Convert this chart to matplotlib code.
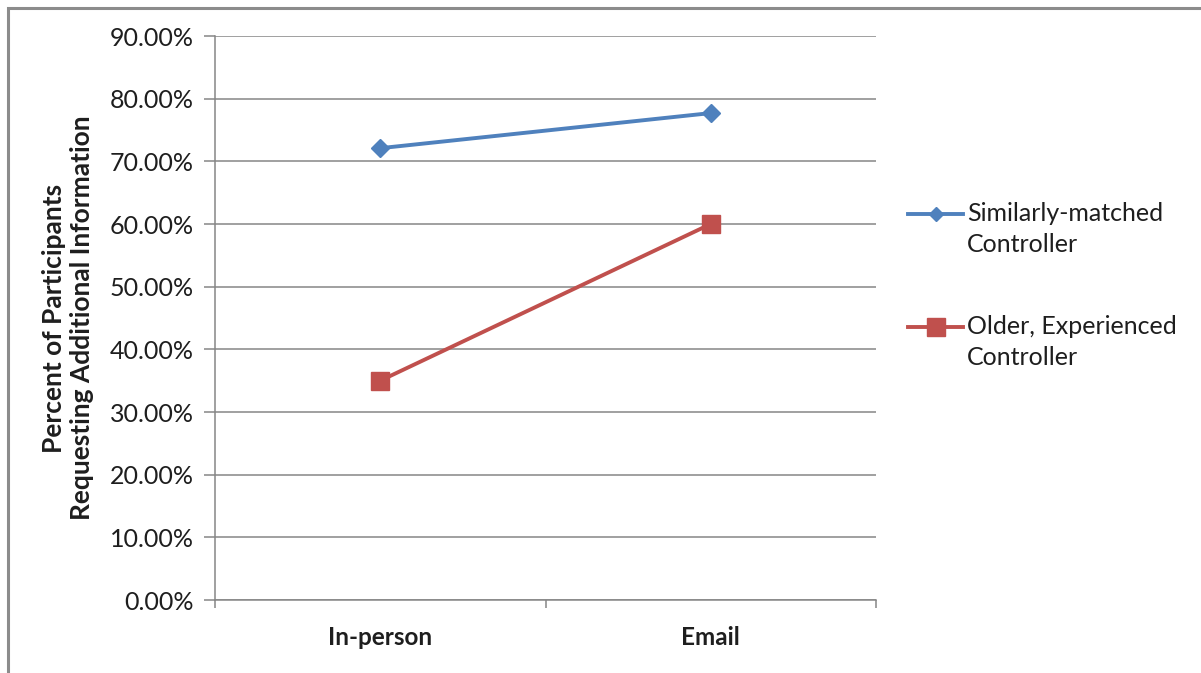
import matplotlib
matplotlib.use("Agg")
import matplotlib.pyplot as plt
from matplotlib.lines import Line2D
from matplotlib.patches import Rectangle
from matplotlib.ticker import FuncFormatter, FixedLocator

plt.rcParams["font.family"] = ["Lato", "DejaVu Sans"]

categories = ["In-person", "Email"]
similar_pct = [72.1, 77.7]
older_pct = [35.0, 60.0]
series_names = ["Similarly-matched\nController", "Older, Experienced\nController"]

BLUE = "#4F81BD"
RED = "#C0504D"
GRID = "#868686"
TEXT = "#1E1E1E"

W, H = 1201, 673
fig = plt.figure(figsize=(W / 100, H / 100), dpi=100)


def fx(px):
    return px / W


def fy(py):
    return 1 - py / H


# chart frame (only left/top edge falls inside the image)
fig.patches.append(Rectangle((fx(8), fy(700)), fx(1300), fy(8) - fy(700),
                             transform=fig.transFigure, fill=False,
                             edgecolor="#8C8C8C", linewidth=2.2))

ax = fig.add_axes([fx(215), fy(600), fx(876) - fx(215), fy(36) - fy(600)])

x = [i + 0.5 for i in range(len(categories))]
ax.plot(x, similar_pct, color=BLUE, linewidth=2.8, marker="D", markersize=9.5,
        markerfacecolor=BLUE, markeredgecolor=BLUE, zorder=3)
ax.plot(x, older_pct, color=RED, linewidth=2.8, marker="s", markersize=13,
        markerfacecolor=RED, markeredgecolor=RED, zorder=3)

ax.set_xlim(0, len(categories))
ax.set_ylim(0, 90)
ax.set_yticks(range(0, 91, 10))
ax.yaxis.set_major_formatter(FuncFormatter(lambda v, _: f"{v:.2f}%"))
ax.yaxis.grid(True, color=GRID, linewidth=1.1)
ax.set_axisbelow(True)

ax.xaxis.set_major_locator(FixedLocator(range(len(categories) + 1)))
ax.xaxis.set_major_formatter(FuncFormatter(lambda v, _: ""))
ax.xaxis.set_minor_locator(FixedLocator(x))
ax.set_xticklabels(categories, minor=True, fontweight="bold", fontsize=17.5, color=TEXT)
ax.tick_params(axis="x", which="major", length=6, color=GRID, width=1.1, direction="out")
ax.tick_params(axis="x", which="minor", length=0, pad=19)
ax.tick_params(axis="y", length=8, color=GRID, width=1.1, labelsize=18,
               labelcolor=TEXT, pad=7.5)

for side in ("top", "right"):
    ax.spines[side].set_visible(False)
for side in ("left", "bottom"):
    ax.spines[side].set_color(GRID)
    ax.spines[side].set_linewidth(1.1)

ax.set_ylabel("Percent of Participants\nRequesting Additional Information",
              fontsize=19, fontweight="bold", labelpad=11, linespacing=1.2, color=TEXT)

# legend entries drawn by hand so the marker sits on the first text line
for name, color, marker, ms, y in [(series_names[0], BLUE, "D", 7.5, 214),
                                   (series_names[1], RED, "s", 13, 327)]:
    fig.lines.append(Line2D([fx(908), fx(963)], [fy(y), fy(y)], transform=fig.transFigure,
                            color=color, linewidth=2.8))
    fig.lines.append(Line2D([fx(935.5)], [fy(y)], transform=fig.transFigure,
                            color=color, marker=marker, markersize=ms, linestyle="none"))
    fig.text(fx(967), fy(y - 12), name, fontsize=18, va="top", ha="left",
             color=TEXT, linespacing=1.42)

fig.savefig("out.png", dpi=100, facecolor="white")
